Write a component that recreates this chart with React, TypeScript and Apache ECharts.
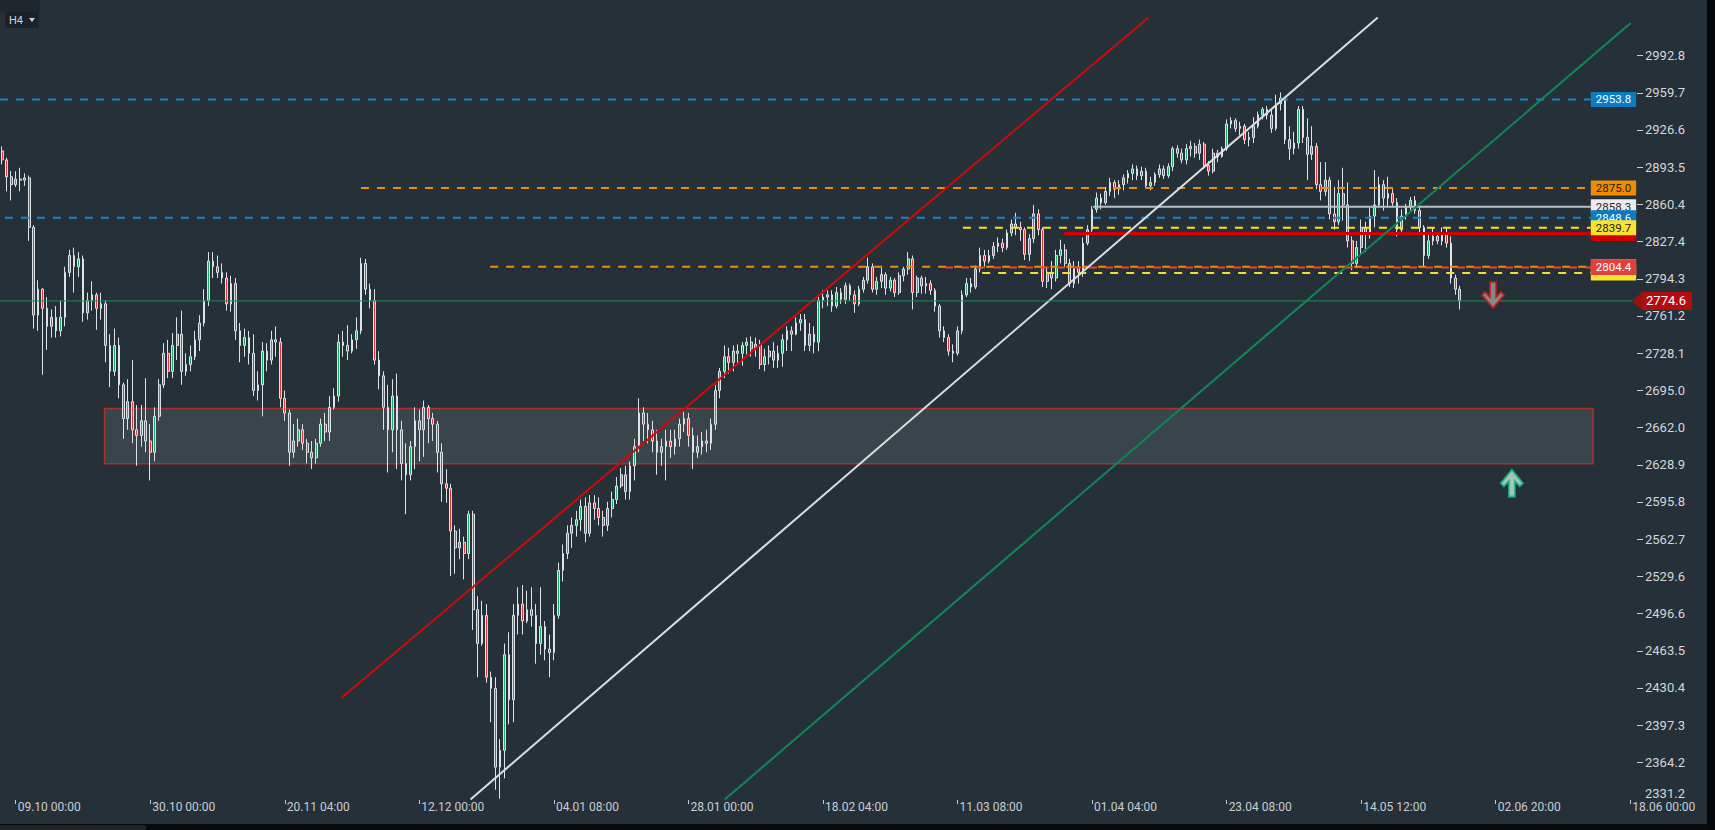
import React, { useEffect, useRef } from "react";
import * as echarts from "echarts";

// ---------- axis data ----------
const yTicks = [2331.2, 2364.2, 2397.3, 2430.4, 2463.5, 2496.6, 2529.6, 2562.7, 2595.8, 2628.9, 2662.0, 2695.0, 2728.1, 2761.2, 2794.3, 2827.4, 2860.4, 2893.5, 2926.6, 2959.7, 2992.8];
const yMin = 2330.8;
const yMax = 3042.2;
const timeLabels = ["09.10 00:00", "30.10 00:00", "20.11 04:00", "12.12 00:00", "04.01 08:00", "28.01 00:00", "18.02 04:00", "11.03 08:00", "01.04 04:00", "23.04 08:00", "14.05 12:00", "02.06 20:00", "18.06 00:00"];
const timeLabelSlots = [3, 33, 63, 93, 123, 153, 183, 213, 243, 273, 303, 333, 363];
const totalSlots = 365;

// ---------- candles [open, close, low, high] (each = 3 H4 bars) ----------
const candlesOctNov = [
  [2908,2900,2896,2912],[2900,2885,2872,2902],[2885,2878,2864,2890],[2878,2883,2876,2890],[2883,2882,2872,2893],
  [2882,2884,2877,2888],[2884,2840,2828,2886],[2840,2762,2750,2842],[2762,2785,2748,2793],[2785,2768,2709,2786],
  [2768,2752,2731,2778],[2752,2760,2742,2767],[2760,2748,2742,2770],[2748,2760,2743,2775],[2760,2800,2752,2805],
  [2800,2815,2796,2820],[2815,2805,2782,2822],[2805,2812,2796,2818],[2812,2764,2756,2815],[2764,2775,2758,2782],
  [2775,2780,2766,2792],[2780,2768,2749,2782],[2768,2772,2758,2782],[2772,2735,2720,2775],[2735,2712,2698,2745],
  [2712,2735,2708,2750],[2735,2700,2688,2742],[2700,2670,2652,2702],[2670,2685,2660,2705],[2685,2660,2648,2722],
  [2660,2655,2628,2682],[2655,2668,2645,2682],[2668,2650,2640,2706],[2650,2640,2615,2665],[2640,2672,2632,2680],
  [2672,2700,2668,2705],[2700,2728,2697,2737],[2728,2712,2706,2740],[2712,2735,2706,2746],[2735,2745,2722,2760],
  [2745,2712,2700,2766],[2712,2718,2708,2728],[2718,2725,2712,2735],[2725,2740,2722,2748],[2740,2755,2730,2762],
  [2755,2775,2752,2785],[2775,2810,2770,2818],[2810,2805,2795,2818],[2805,2800,2795,2815],[2800,2795,2790,2808],
];
const candlesNovDec = [
  [2795,2772,2766,2800],[2772,2790,2765,2797],[2790,2748,2740,2795],[2748,2735,2720,2755],[2735,2742,2725,2750],
  [2742,2728,2718,2748],[2728,2695,2690,2745],[2695,2700,2686,2712],[2700,2730,2672,2738],[2730,2722,2712,2737],
  [2722,2740,2718,2748],[2740,2738,2725,2752],[2738,2688,2680,2742],[2688,2675,2668,2695],[2675,2640,2628,2678],
  [2640,2650,2635,2665],[2650,2660,2645,2670],[2660,2648,2642,2665],[2648,2640,2630,2652],[2640,2635,2625,2650],
  [2635,2648,2630,2652],[2648,2665,2645,2670],[2665,2658,2650,2675],[2658,2680,2650,2690],[2680,2690,2678,2697],
  [2690,2738,2685,2745],[2738,2735,2725,2748],[2735,2730,2722,2753],[2730,2740,2728,2745],[2740,2748,2732,2760],
  [2748,2808,2745,2813],[2808,2785,2780,2812],[2785,2775,2768,2790],[2775,2722,2718,2785],[2722,2708,2696,2730],
  [2708,2680,2660,2712],[2680,2660,2622,2700],[2660,2690,2640,2705],[2690,2660,2625,2710],[2660,2630,2615,2668],
  [2630,2620,2585,2648],[2620,2645,2615,2650],[2645,2668,2625,2680],[2668,2660,2632,2678],[2660,2680,2636,2686],
  [2680,2670,2648,2682],[2670,2665,2650,2675],[2665,2640,2622,2668],[2640,2612,2596,2648],[2612,2608,2595,2625],
];
const candlesDecJan = [
  [2608,2570,2530,2612],[2570,2555,2532,2575],[2555,2560,2545,2572],[2560,2550,2527,2565],[2550,2585,2545,2588],
  [2585,2500,2482,2588],[2500,2470,2440,2512],[2470,2495,2468,2508],[2495,2440,2435,2505],[2440,2430,2400,2445],
  [2430,2360,2340,2440],[2360,2375,2332,2385],[2375,2460,2350,2470],[2460,2420,2398,2480],[2420,2495,2400,2505],
  [2495,2505,2478,2520],[2505,2490,2478,2522],[2490,2500,2488,2517],[2500,2495,2485,2520],[2495,2470,2452,2505],
  [2470,2485,2460,2520],[2485,2465,2455,2490],[2465,2462,2440,2478],[2462,2495,2455,2505],[2495,2535,2492,2542],
  [2535,2550,2525,2558],[2550,2568,2545,2575],[2568,2575,2555,2582],[2575,2580,2565,2588],[2580,2592,2570,2598],
  [2592,2568,2560,2600],[2568,2595,2565,2602],[2595,2590,2580,2602],[2590,2582,2575,2600],[2582,2575,2565,2588],
  [2575,2590,2570,2596],[2590,2598,2582,2605],[2598,2610,2594,2618],[2610,2620,2608,2626],[2620,2605,2598,2628],
  [2605,2628,2598,2632],[2628,2645,2615,2652],[2645,2675,2640,2688],[2675,2665,2650,2680],[2665,2660,2648,2675],
  [2660,2650,2640,2668],[2650,2640,2620,2660],[2640,2645,2628,2652],[2645,2650,2615,2660],[2650,2645,2635,2660],
];
const candlesFebMar = [
  [2645,2652,2638,2660],[2652,2665,2645,2670],[2665,2670,2658,2676],[2670,2655,2645,2675],[2655,2640,2625,2662],
  [2640,2645,2635,2655],[2645,2650,2638,2658],[2650,2648,2640,2660],[2648,2665,2642,2670],[2665,2695,2660,2700],
  [2695,2712,2688,2715],[2712,2725,2706,2735],[2725,2720,2710,2733],[2720,2730,2712,2735],[2730,2728,2718,2736],
  [2728,2735,2717,2738],[2735,2738,2727,2742],[2738,2732,2725,2743],[2732,2736,2725,2742],[2736,2718,2714,2740],
  [2718,2725,2712,2732],[2725,2730,2718,2735],[2730,2722,2715,2738],[2722,2728,2715,2735],[2728,2740,2716,2745],
  [2740,2748,2730,2752],[2748,2745,2730,2752],[2745,2755,2744,2760],[2755,2758,2748,2763],[2758,2735,2730,2763],
  [2735,2745,2730,2755],[2745,2738,2728,2752],[2738,2775,2730,2779],[2775,2778,2768,2784],[2778,2780,2770,2784],
  [2780,2770,2765,2784],[2770,2782,2768,2787],[2782,2776,2772,2786],[2776,2788,2772,2791],[2788,2780,2775,2790],
  [2780,2772,2764,2784],[2772,2785,2770,2788],[2785,2793,2782,2796],[2793,2805,2790,2813],[2805,2785,2782,2808],
  [2785,2792,2780,2796],[2792,2798,2786,2804],[2798,2786,2780,2800],[2786,2793,2783,2796],[2793,2782,2778,2795],
];
const candlesMarApr = [
  [2782,2797,2780,2800],[2797,2803,2792,2805],[2803,2812,2798,2818],[2812,2782,2767,2815],[2782,2795,2778,2797],
  [2795,2788,2781,2797],[2788,2790,2781,2796],[2790,2784,2780,2793],[2784,2770,2765,2786],[2770,2748,2742,2772],
  [2748,2742,2738,2752],[2742,2730,2726,2745],[2730,2728,2720,2736],[2728,2748,2726,2752],[2748,2780,2745,2784],
  [2780,2790,2778,2795],[2790,2787,2782,2795],[2787,2803,2785,2806],[2803,2815,2800,2822],[2815,2810,2805,2820],
  [2810,2815,2808,2820],[2815,2823,2812,2827],[2823,2826,2818,2831],[2826,2822,2818,2830],[2822,2835,2820,2838],
  [2835,2843,2832,2847],[2843,2840,2833,2853],[2840,2838,2828,2845],[2838,2816,2811,2840],[2816,2830,2810,2834],
  [2830,2852,2826,2860],[2852,2838,2833,2856],[2838,2792,2787,2840],[2792,2800,2786,2805],[2800,2795,2785,2810],
  [2795,2815,2792,2820],[2815,2820,2808,2829],[2820,2808,2804,2825],[2808,2790,2787,2812],[2790,2805,2786,2810],
  [2805,2800,2790,2810],[2800,2826,2796,2831],[2826,2838,2824,2842],[2838,2856,2835,2859],[2856,2866,2853,2871],
  [2866,2862,2856,2870],[2862,2872,2860,2876],[2872,2880,2868,2884],[2880,2874,2866,2882],[2874,2878,2869,2882],
];
const candlesAprMay = [
  [2878,2884,2873,2887],[2884,2888,2879,2891],[2888,2892,2882,2896],[2892,2886,2882,2895],[2886,2890,2882,2894],
  [2890,2877,2874,2893],[2877,2880,2873,2885],[2880,2887,2877,2889],[2887,2892,2884,2896],[2892,2886,2883,2895],
  [2886,2894,2884,2897],[2894,2910,2890,2912],[2910,2906,2902,2913],[2906,2900,2897,2910],[2900,2910,2896,2914],
  [2910,2912,2903,2917],[2912,2906,2902,2915],[2906,2914,2900,2918],[2914,2895,2892,2916],[2895,2890,2886,2899],
  [2890,2906,2888,2910],[2906,2903,2898,2909],[2903,2910,2902,2912],[2910,2932,2908,2936],[2932,2935,2928,2938],
  [2935,2928,2925,2937],[2928,2930,2922,2934],[2930,2918,2914,2932],[2918,2920,2912,2925],[2920,2930,2915,2938],
  [2930,2940,2928,2943],[2940,2945,2936,2947],[2945,2940,2936,2948],[2940,2928,2924,2945],[2928,2950,2926,2958],
  [2950,2955,2944,2960],[2955,2918,2914,2956],[2918,2910,2900,2930],[2910,2915,2905,2925],[2915,2945,2910,2948],
  [2945,2920,2915,2948],[2920,2905,2882,2937],[2905,2912,2900,2930],[2912,2878,2874,2915],[2878,2872,2864,2898],
  [2872,2882,2868,2898],[2882,2852,2847,2885],[2852,2845,2838,2876],[2845,2870,2842,2882],[2870,2860,2846,2893],
];
const candlesMay = [
  [2860,2828,2822,2880],[2828,2808,2802,2832],[2808,2822,2804,2828],[2822,2840,2816,2847],[2840,2835,2818,2845],
  [2835,2850,2830,2858],[2850,2860,2840,2891],[2860,2878,2858,2885],[2878,2866,2855,2882],[2866,2870,2858,2885],
  [2870,2862,2858,2874],[2862,2838,2832,2866],[2838,2850,2836,2856],[2850,2858,2847,2861],[2858,2864,2855,2867],
  [2864,2855,2852,2868],[2855,2840,2834,2858],[2840,2815,2805,2842],[2815,2828,2812,2834],[2828,2832,2824,2840],
  [2832,2828,2825,2835],[2828,2835,2824,2840],[2835,2826,2822,2840],[2826,2795,2790,2832],[2795,2785,2780,2798],
  [2785,2774.6,2767,2788],
];

// ---------- drawn levels ----------
const levelValues = [2953.8, 2875.0, 2858.3, 2848.6, 2834.5, 2839.7, 2799.5, 2805.0, 2804.4];
const levelStarts = [-0.5, 80.0, 243.2, 0.6, 236.7, 214.2, 218.5, 108.8, 210.2];
const levelEnd = 354.2;
const lastPrice = 2774.6;
const priceLineEnd = 363.4;
const priceTagSlot = 364.5;

// ---------- trend lines [slot, price] ----------
const trendRed = [[75.6, 2421.5], [255.6, 3026.7]];
const trendWhite = [[104.4, 2331.3], [306.7, 3026.7]];
const trendGreen = [[161.1, 2331.3], [363.1, 3021.8]];

// ---------- zone and signals ----------
const zoneCorners = [[22.8, 2679.0], [354.7, 2629.8]];
const signalSell = [332.4, 2779.9];
const signalBuy = [336.6, 2612.5];

const levelStyles = [
  { c: "#1283cc", w: 2, dash: true, box: "#0b7cc2", txt: "#ffffff" },
  { c: "#f28c0a", w: 2, dash: true, box: "#f08c00", txt: "#1d1d1d" },
  { c: "#b9bec3", w: 2, dash: false, box: "#e9ebed", txt: "#2a2a2a" },
  { c: "#1283cc", w: 2, dash: true, box: "#0b7cc2", txt: "#ffffff" },
  { c: "#d20000", w: 3, dash: false, box: "#d20000", txt: "#d20000" },
  { c: "#f3df2d", w: 2, dash: true, box: "#f6e233", txt: "#1d1d1d" },
  { c: "#f3df2d", w: 2, dash: true, box: "#f6e233", txt: "#f6e233" },
  { c: "#f28c0a", w: 2, dash: true, box: "#f08c00", txt: "#f08c00" },
  { c: "#e8423a", w: 2, dash: true, box: "#e2403c", txt: "#ffffff" },
];

const DOWN_ARROW = "path://M8,0 L14,0 L14,15 L19,10 L22,13 L11,26 L0,13 L3,10 L8,15 Z";
const UP_ARROW = "path://M8,26 L14,26 L14,11 L19,16 L22,13 L11,0 L0,13 L3,16 L8,11 Z";

export default function App() {
  const ref = useRef<HTMLDivElement>(null);

  useEffect(() => {
    if (!ref.current) return;
    const chart = echarts.init(ref.current, undefined, { renderer: "svg" });

    const candles = [
      ...candlesOctNov, ...candlesNovDec, ...candlesDecJan, ...candlesFebMar,
      ...candlesMarApr, ...candlesAprMay, ...candlesMay,
    ];
    const slotNames: string[] = [];
    for (let i = 0; i < totalSlots; i++) slotNames.push("s" + i);
    const labelMap = new Map<number, string>();
    timeLabelSlots.forEach((s, i) => labelMap.set(s, timeLabels[i]));
    const showAt = (index: number) => labelMap.has(index);

    const levelSeries = levelValues.map((v, i) => {
      const st = levelStyles[i];
      return {
        type: "line",
        xAxisIndex: 1,
        yAxisIndex: 0,
        z: 10 + i,
        symbol: "none",
        silent: true,
        data: [[levelStarts[i], v], [levelEnd, v]],
        lineStyle: { color: st.c, width: st.w, type: st.dash ? [8, 8] : "solid" },
        endLabel: {
          show: true,
          formatter: v.toFixed(1),
          distance: 0,
          backgroundColor: st.box,
          color: st.txt,
          padding: [2, 5, 2, 5],
          fontSize: 11.5,
          lineHeight: 11,
          fontFamily: "Roboto",
        },
      };
    });

    const trend = (d: number[][], color: string) => ({
      type: "line",
      xAxisIndex: 1,
      yAxisIndex: 0,
      z: 30,
      symbol: "none",
      silent: true,
      data: d,
      lineStyle: { color, width: 2 },
    });

    const lowestTick = yTicks[0];

    const option = {
      animation: false,
      backgroundColor: "#263038",
      textStyle: { fontFamily: "Roboto, 'Noto Sans', sans-serif" },
      grid: { left: 0, right: 78, top: 0, bottom: 30, containLabel: false, outerBoundsMode: "none" },
      xAxis: [
        {
          type: "category",
          data: slotNames,
          boundaryGap: true,
          axisLine: { show: false, onZero: false },
          splitLine: { show: false },
          axisTick: {
            show: true,
            alignWithLabel: true,
            interval: (index: number) => showAt(index),
            length: 4,
            lineStyle: { color: "#c3c8cd", width: 1 },
          },
          axisLabel: {
            show: true,
            interval: (index: number) => showAt(index),
            formatter: (_v: string, index: number) => labelMap.get(index) || "",
            align: "left",
            margin: 0,
            padding: [1, 0, 0, 2],
            color: "#c9ced3",
            fontSize: 12,
          },
        },
        { type: "value", min: -0.5, max: totalSlots - 0.5, show: false },
      ],
      yAxis: {
        type: "value",
        position: "right",
        min: yMin,
        max: yMax,
        splitLine: { show: false },
        axisLine: { show: false, onZero: false },
        axisTick: {
          show: true,
          customValues: yTicks.slice(1),
          length: 6,
          lineStyle: { color: "#c9ced3", width: 1 },
        },
        axisLabel: {
          show: true,
          customValues: yTicks,
          formatter: (v: number) =>
            Math.abs(v - lowestTick) < 0.01 ? "{low|" + v.toFixed(1) + "}" : v.toFixed(1),
          margin: 8,
          color: "#d3d7db",
          fontSize: 13,
          rich: {
            low: { color: "#d3d7db", fontSize: 13, padding: [0, 0, 12, 0] },
          },
        },
      },
      graphic: [
        { type: "rect", left: 0, top: 0, shape: { width: 40, height: 12 }, style: { fill: "#1f272d" }, z: 100 },
        { type: "rect", left: 5, top: 12, shape: { width: 34, height: 16, r: 2 }, style: { fill: "#1b2227" }, z: 100 },
        { type: "text", left: 9, top: 15, style: { text: "H4", fill: "#cfd3d6", fontSize: 11, fontFamily: "Roboto" }, z: 101 },
        { type: "polygon", shape: { points: [[29, 18], [35, 18], [32, 22]] }, style: { fill: "#cfd3d6" }, z: 101 },
        { type: "rect", left: 0, top: 824, shape: { width: 1715, height: 6 }, style: { fill: "#080a0c" }, z: 100 },
        { type: "rect", left: 0, top: 825, shape: { width: 146, height: 5 }, style: { fill: "#1c2328" }, z: 101 },
        { type: "rect", left: 1707, top: 0, shape: { width: 8, height: 830 }, style: { fill: "#070809" }, z: 100 },
      ],
      series: [
        {
          type: "line",
          xAxisIndex: 1,
          yAxisIndex: 0,
          z: 1,
          symbol: "none",
          silent: true,
          data: [zoneCorners[0]],
          lineStyle: { width: 0 },
          markArea: {
            silent: true,
            itemStyle: { color: "#3a444b", borderColor: "#a8332f", borderWidth: 1.5 },
            data: [[{ coord: zoneCorners[0] }, { coord: zoneCorners[1] }]],
          },
        },
        {
          type: "candlestick",
          name: "H4",
          xAxisIndex: 0,
          yAxisIndex: 0,
          z: 3,
          barWidth: 2.2,
          data: candles,
          itemStyle: {
            color: "#1fa868",
            color0: "#e3343a",
            borderColor: "#dde2e6",
            borderColor0: "#dde2e6",
            borderWidth: 1,
          },
        },
        ...levelSeries,
        trend(trendRed, "#cf0a0a"),
        trend(trendWhite, "#d9dde0"),
        trend(trendGreen, "#0e8755"),
        {
          type: "line",
          xAxisIndex: 1,
          yAxisIndex: 0,
          z: 40,
          symbol: "none",
          silent: true,
          data: [[-0.5, lastPrice], [priceLineEnd, lastPrice]],
          lineStyle: { color: "#12905a", width: 1 },
          endLabel: {
            show: true,
            formatter: lastPrice.toFixed(1),
            distance: 10,
            backgroundColor: "#b30d0d",
            color: "#ffffff",
            padding: [2, 6, 2, 4],
            fontSize: 13,
            lineHeight: 14,
          },
        },
        {
          type: "scatter",
          xAxisIndex: 1,
          yAxisIndex: 0,
          z: 41,
          clip: false,
          silent: true,
          symbol: "path://M10,0 L10,18 L0,9 Z",
          symbolSize: [10, 18],
          symbolKeepAspect: false,
          data: [[priceTagSlot, lastPrice]],
          itemStyle: { color: "#b30d0d" },
        },
        {
          type: "scatter",
          xAxisIndex: 1,
          yAxisIndex: 0,
          z: 42,
          silent: true,
          symbol: DOWN_ARROW,
          symbolSize: [22, 26],
          data: [signalSell],
          itemStyle: { color: "#9c9c9c", borderColor: "#d11414", borderWidth: 2 },
        },
        {
          type: "scatter",
          xAxisIndex: 1,
          yAxisIndex: 0,
          z: 42,
          silent: true,
          symbol: UP_ARROW,
          symbolSize: [22, 27],
          data: [signalBuy],
          itemStyle: { color: "#bfeedb", borderColor: "#18b67a", borderWidth: 2 },
        },
      ],
    };

    chart.setOption(option as any);
    return () => chart.dispose();
  }, []);

  return (
    <div
      ref={ref}
      style={{ position: "absolute", left: 0, top: 0, width: 1715, height: 830 }}
    />
  );
}
